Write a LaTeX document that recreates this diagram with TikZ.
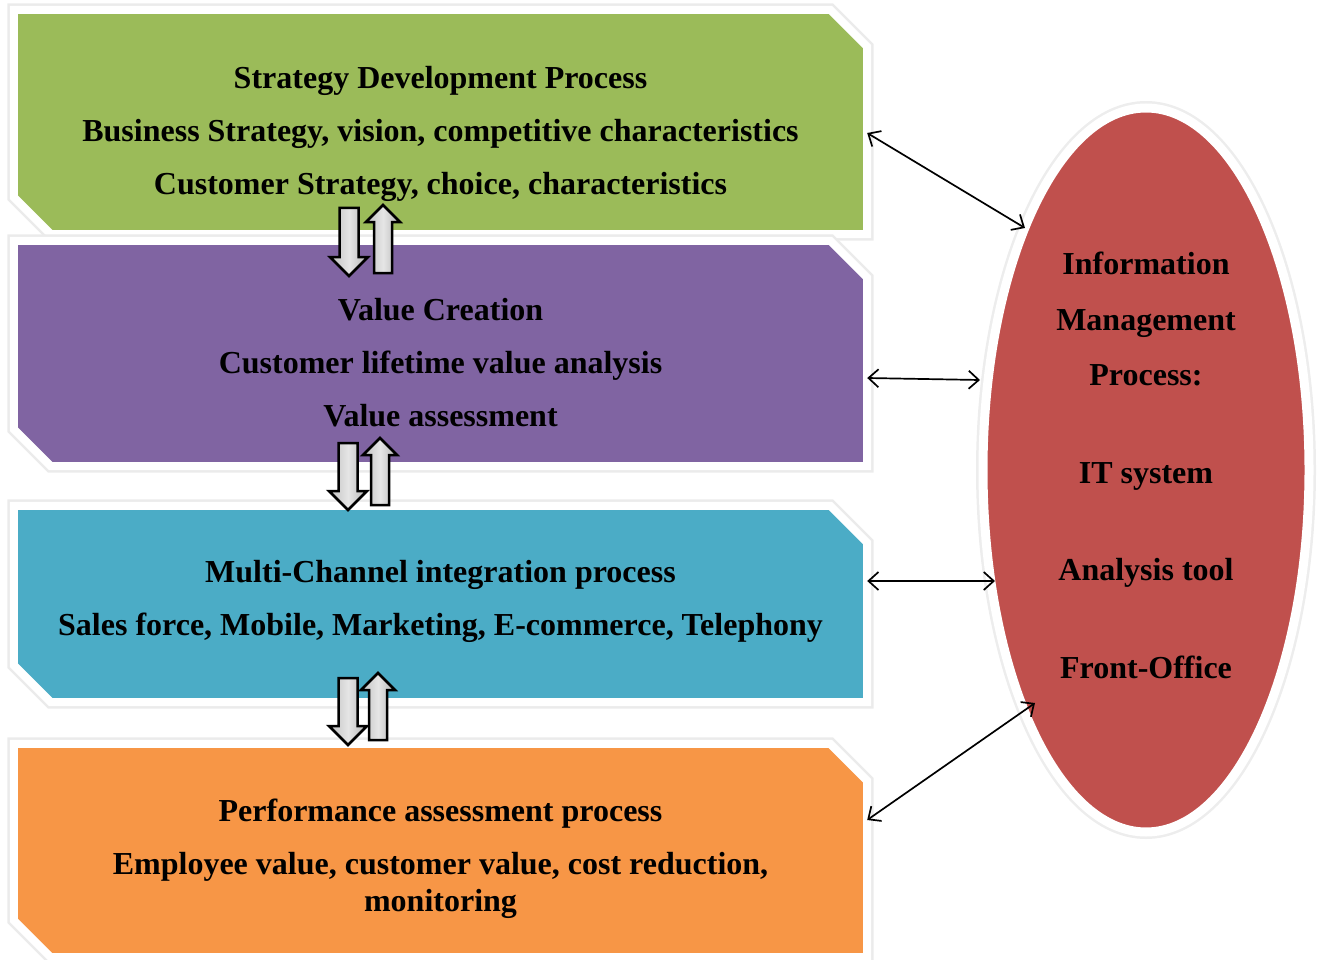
\documentclass[tikz,border=0pt]{standalone}
\usepackage{fontspec}
\setmainfont{Liberation Serif}
\usetikzlibrary{shapes.geometric,arrows.meta,calc}
\definecolor{cgreen}{HTML}{9BBB59}
\definecolor{cpurple}{HTML}{8064A2}
\definecolor{cblue}{HTML}{4BACC6}
\definecolor{corange}{HTML}{F79646}
\definecolor{cred}{HTML}{C0504D}
\newcommand\blkdown[3]{\draw[blk] (#1-9.5,#2) -- (#1+9.5,#2) -- (#1+9.5,#3-19) -- (#1+19,#3-19) -- (#1,#3) -- (#1-19,#3-19) -- (#1-9.5,#3-19) -- cycle;}
\newcommand\blkup[3]{\draw[blk] (#1-9,#3) -- (#1+9,#3) -- (#1+9,#2+17) -- (#1+17,#2+17) -- (#1,#2) -- (#1-17,#2+17) -- (#1-9,#2+17) -- cycle;}
\newcommand\chbox[2]{\draw[boxline, fill=#2] (#1.north west) -- ([xshift=-37pt]#1.north east) -- ([yshift=-37pt]#1.north east) -- (#1.south east) -- ([xshift=37pt]#1.south west) -- ([yshift=37pt]#1.south west) -- cycle;}
\tikzset{
  boxn/.style={rectangle, draw=none, minimum width=853pt, inner sep=0pt},
  boxline/.style={draw=white, line width=8pt, line join=miter, preaction={draw=black!8, line width=13pt}},
  txt/.style={font=\fontsize{32}{37}\selectfont\bfseries, align=center, inner sep=0pt, text=black},
  conn/.style={{Straight Barb[length=10pt,width=18pt]}-{Straight Barb[length=10pt,width=18pt]}, line width=1.7pt, black},
  blk/.style={draw=black, line width=2.5pt, line join=miter, left color=gray!50, right color=gray!60, middle color=gray!20},
  ell/.style={ellipse, draw=white, line width=9pt, preaction={draw=black!7, line width=14pt}, fill=cred, minimum width=326pt, minimum height=724pt, inner sep=0pt}
}
\begin{document}
\begin{tikzpicture}[x=1pt,y=-1pt]
\useasboundingbox (0,0) rectangle (1322,960);
\node[boxn, minimum height=224pt] (green) at (440.5,122) {};
\node[boxn, minimum height=225pt] (purple) at (440.5,353.5) {};
\node[boxn, minimum height=196pt] (blue) at (440.5,604) {};
\node[boxn, minimum height=213pt] (orange) at (440.5,850.5) {};
\chbox{green}{cgreen}
\chbox{purple}{cpurple}
\chbox{blue}{cblue}
\chbox{orange}{corange}
\node[ell] (info) at (1146,470) {};

\node[txt] (gt) at (440.5,134) {Strategy Development Process\\[16pt]Business Strategy, vision, competitive characteristics\\[16pt]Customer Strategy, choice, characteristics};
\node[txt] (pt) at (440.5,363) {Value Creation\\[16pt]Customer lifetime value analysis\\[16pt]Value assessment};
\node[txt] (bt) at (440.5,601) {Multi-Channel integration process\\[16pt]Sales force, Mobile, Marketing, E-commerce, Telephony};
\node[txt] (ot) at (440.5,859) {Performance assessment process\\[16pt]Employee value, customer value, cost reduction,\\monitoring};
\node[txt] (et) at (1146,465.5) {Information\\[18.5pt]Management\\[18.5pt]Process:\\[60.5pt]IT system\\[60.5pt]Analysis tool\\[60.5pt]Front-Office};

\blkdown{349}{208}{276}
\blkup{383}{205}{273}
\blkdown{348}{443}{510}
\blkup{380}{438}{505}
\blkdown{348}{678}{745}
\blkup{378}{673}{740}

\coordinate (e1) at (1025,228);
\coordinate (e2) at (980,380);
\coordinate (e3) at (995,581);
\coordinate (e4) at (1035,703);
\draw[conn] ([yshift=-11pt]green.east) -- (e1);
\draw[conn] ([yshift=-24.5pt]purple.east) -- (e2);
\draw[conn] ([yshift=23pt]blue.east) -- (e3);
\draw[conn] ([yshift=30.5pt]orange.east) -- (e4);
\end{tikzpicture}
\end{document}
